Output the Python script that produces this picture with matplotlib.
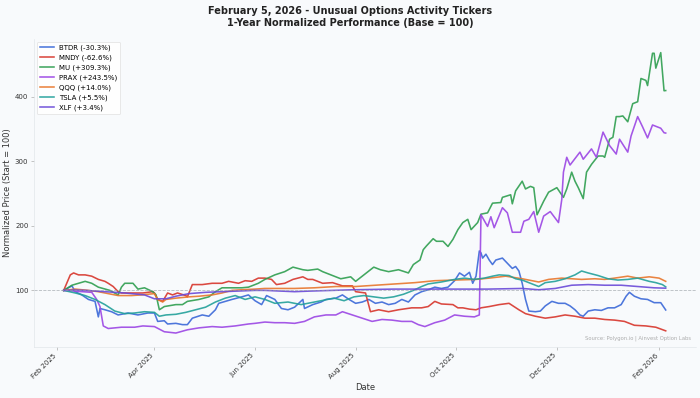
import numpy as np
import matplotlib
matplotlib.use("Agg")
import matplotlib.pyplot as plt
import matplotlib.dates as mdates

START = np.datetime64("2025-02-05")

tickers = ["BTDR", "MNDY", "MU", "PRAX", "QQQ", "TSLA", "XLF"]
labels = ["BTDR (-30.3%)", "MNDY (-62.6%)", "MU (+309.3%)", "PRAX (+243.5%)",
          "QQQ (+14.0%)", "TSLA (+5.5%)", "XLF (+3.4%)"]
colors = ["#3a68d8", "#d7352b", "#2e9e4f", "#9b45e4", "#e8762c", "#22a09a", "#6a4ad8"]

# day offsets from 2025-02-05 and normalized values
btdr_days = [0, 5, 7, 11, 15, 19, 21, 22, 25, 29, 33, 39, 45, 51, 55, 57, 61, 63, 68, 72, 75, 78, 84, 88, 92, 94, 98, 102, 108, 112, 116, 120, 123, 128, 132, 136, 140, 145, 146, 151, 156, 159, 165, 169, 173, 177, 181, 185, 189, 193, 197, 201, 205, 209, 213, 217, 221, 225, 229, 233, 237, 240, 243, 246, 248, 250, 252, 253, 254, 256, 258, 260, 262, 266, 269, 272, 274, 276, 278, 280, 282, 286, 289, 292, 296, 300, 304, 307, 310, 313, 315, 318, 322, 326, 330, 334, 338, 341, 343, 346, 350, 354, 358, 362, 365]
btdr_vals = [100, 107, 98, 93, 86, 83, 59, 72, 70, 67, 62, 65, 62, 65, 65, 52, 53, 48, 49, 47, 47, 57, 62, 60, 70, 80, 83, 86, 90, 93, 84, 78, 92, 86, 72, 70, 74, 86, 72, 78, 82, 86, 88, 93, 86, 80, 82, 86, 80, 82, 78, 80, 86, 82, 93, 98, 101, 105, 103, 105, 115, 127, 122, 128, 111, 122, 161, 158, 150, 156, 147, 140, 147, 150, 142, 134, 137, 130, 111, 86, 68, 67, 68, 76, 83, 80, 80, 76, 70, 62, 60, 68, 70, 69, 73, 73, 78, 91, 97, 91, 87, 86, 81, 81, 69.7]

mndy_days = [0, 4, 6, 9, 13, 17, 21, 25, 27, 30, 33, 35, 41, 48, 54, 55, 57, 60, 63, 66, 69, 74, 75, 78, 84, 90, 96, 100, 106, 110, 114, 118, 122, 126, 129, 134, 139, 145, 148, 151, 157, 163, 169, 175, 177, 183, 186, 191, 197, 203, 211, 217, 221, 225, 229, 236, 239, 242, 246, 250, 253, 258, 264, 270, 273, 276, 280, 286, 292, 298, 304, 310, 316, 322, 328, 334, 340, 346, 353, 359, 365]
mndy_vals = [100, 124, 127, 124, 124, 122, 117, 114, 111, 106, 98, 96, 96, 96, 98, 96, 86, 83, 96, 93, 96, 92, 90, 109, 109, 111, 111, 114, 111, 115, 114, 119, 119, 117, 109, 111, 117, 121, 117, 117, 111, 112, 107, 107, 98, 96, 67, 70, 67, 70, 73, 73, 75, 83, 79, 78, 73, 73, 71, 70, 73, 75, 78, 80, 75, 70, 64, 60, 57, 59, 62, 60, 57, 57, 55, 54, 52, 46, 45, 43, 37.4]

mu_days = [0, 5, 9, 13, 17, 21, 28, 33, 35, 37, 42, 45, 49, 54, 56, 58, 61, 68, 72, 75, 82, 88, 92, 96, 102, 108, 112, 118, 122, 128, 134, 139, 145, 148, 154, 157, 162, 168, 174, 177, 182, 188, 192, 197, 203, 209, 212, 216, 218, 220, 224, 226, 230, 233, 236, 239, 242, 245, 247, 251, 253, 257, 260, 265, 266, 271, 272, 274, 278, 280, 283, 285, 287, 291, 294, 299, 303, 305, 308, 310, 312, 315, 317, 320, 324, 327, 328, 331, 333, 335, 337, 339, 342, 345, 348, 350, 353, 354, 357, 358, 359, 362, 364, 365]
mu_vals = [100, 108, 111, 114, 111, 105, 100, 93, 105, 111, 111, 102, 104, 98, 93, 70, 75, 78, 78, 83, 86, 90, 98, 104, 104, 104, 105, 111, 117, 124, 129, 136, 132, 131, 133, 129, 124, 118, 121, 114, 124, 136, 132, 129, 132, 127, 140, 147, 163, 169, 180, 176, 176, 168, 179, 194, 205, 210, 194, 205, 218, 220, 235, 236, 244, 248, 234, 254, 269, 257, 261, 259, 217, 238, 252, 259, 244, 257, 283, 269, 259, 242, 283, 295, 308, 308, 306, 334, 337, 369, 369, 370, 361, 389, 392, 428, 425, 417, 467, 467, 444, 468, 409, 409.3]

prax_days = [0, 17, 20, 22, 24, 27, 35, 43, 48, 55, 61, 68, 75, 82, 90, 96, 104, 112, 116, 122, 128, 134, 140, 146, 152, 159, 165, 169, 175, 181, 187, 193, 199, 205, 211, 215, 219, 225, 231, 237, 243, 249, 252, 253, 257, 259, 261, 266, 269, 272, 277, 279, 282, 285, 288, 291, 295, 300, 302, 303, 305, 307, 313, 315, 320, 323, 327, 331, 335, 337, 342, 344, 348, 351, 354, 357, 362, 364, 365]
prax_vals = [100, 97, 86, 75, 45, 41, 43, 43, 45, 44, 36, 34, 39, 42, 44, 43, 45, 48, 49, 51, 50, 50, 49, 52, 59, 62, 62, 67, 62, 57, 52, 55, 54, 52, 52, 47, 44, 50, 54, 62, 60, 59, 62, 217, 199, 214, 197, 228, 220, 190, 190, 207, 210, 222, 190, 215, 222, 205, 241, 283, 306, 294, 314, 303, 319, 306, 345, 324, 311, 334, 314, 339, 369, 353, 336, 356, 351, 344, 343.5]

qqq_days = [0, 7, 15, 21, 27, 33, 41, 47, 55, 57, 60, 62, 68, 76, 82, 90, 96, 102, 108, 116, 122, 140, 152, 165, 177, 189, 201, 213, 225, 237, 250, 258, 268, 278, 288, 294, 302, 314, 322, 328, 334, 342, 348, 355, 361, 365]
qqq_vals = [100, 102, 100, 98, 95, 92, 92, 93, 95, 86, 82, 86, 88, 90, 91, 93, 96, 100, 101, 102, 103, 103, 104, 106, 106, 108, 110, 112, 115, 116, 117, 119, 122, 118, 113, 117, 119, 117, 118, 117, 119, 122, 119, 121, 119, 114]

tsla_days = [0, 7, 13, 19, 25, 31, 37, 43, 49, 55, 58, 62, 68, 74, 80, 86, 92, 98, 104, 110, 116, 122, 128, 136, 144, 152, 158, 164, 170, 176, 182, 188, 194, 200, 206, 212, 217, 221, 229, 237, 243, 249, 255, 260, 264, 270, 274, 278, 282, 288, 292, 298, 304, 310, 314, 318, 324, 330, 336, 342, 348, 355, 359, 363, 365]
tsla_vals = [100, 96, 92, 86, 78, 68, 64, 65, 67, 66, 60, 62, 63, 66, 70, 74, 82, 88, 92, 86, 90, 86, 80, 82, 78, 82, 85, 88, 84, 90, 92, 90, 88, 90, 94, 100, 106, 110, 113, 117, 119, 117, 119, 122, 124, 123, 118, 116, 112, 106, 112, 114, 118, 124, 130, 127, 123, 118, 116, 117, 119, 114, 112, 109, 105.5]

xlf_days = [0, 7, 13, 25, 37, 49, 55, 62, 68, 76, 86, 96, 106, 116, 122, 140, 150, 176, 200, 225, 237, 257, 278, 288, 298, 308, 318, 328, 338, 348, 358, 365]
xlf_vals = [100, 100.5, 100, 98, 96, 93, 87, 87, 91, 95, 97, 98, 99, 100, 100, 98, 99, 101, 102, 102, 102, 102, 103, 101, 103, 108, 109, 108, 108, 106, 104, 103.4]

series_days = [btdr_days, mndy_days, mu_days, prax_days, qqq_days, tsla_days, xlf_days]
series_vals = [btdr_vals, mndy_vals, mu_vals, prax_vals, qqq_vals, tsla_vals, xlf_vals]

BG = "#f8fafc"
fig = plt.figure(figsize=(14, 7.96), dpi=50, facecolor=BG)
ax = fig.add_axes([0.048, 0.128, 0.946, 0.775])
ax.set_facecolor(BG)

for days, vals, lab, col in zip(series_days, series_vals, labels, colors):
    dates = START + np.array(days).astype("timedelta64[D]")
    ax.plot(dates, vals, color=col, lw=2.3, alpha=0.9, label=lab)

ax.axhline(100, color="#9aa0a6", ls="--", lw=1.2, alpha=0.7)

ax.xaxis.set_major_locator(mdates.MonthLocator(bymonth=[2, 4, 6, 8, 10, 12]))
ax.xaxis.set_major_formatter(mdates.DateFormatter("%b %Y"))
plt.setp(ax.get_xticklabels(), rotation=45, ha="right")
ax.tick_params(labelsize=10, colors="#333333", length=4, color="#999999")

for s in ["top", "right"]:
    ax.spines[s].set_visible(False)
for s in ["left", "bottom"]:
    ax.spines[s].set_color("#dde1e6")

ax.set_xlabel("Date", fontsize=12, color="#333333")
ax.set_ylabel("Normalized Price (Start = 100)", fontsize=12, color="#333333")
ax.set_yticks([100, 200, 300, 400])

fig.suptitle("February 5, 2026 - Unusual Options Activity Tickers\n1-Year Normalized Performance (Base = 100)",
             fontsize=14, fontweight="bold", color="#222222", y=0.985)

leg = ax.legend(loc="upper left", fontsize=10, frameon=True, facecolor="white",
                edgecolor="#dddddd", framealpha=0.9)

ax.text(0.993, 0.02, "Source: Polygon.io | Ainvest Option Labs", transform=ax.transAxes,
        ha="right", va="bottom", fontsize=7.5, color="#999999", alpha=0.8)

fig.savefig("out.png", dpi=50, facecolor=BG)
